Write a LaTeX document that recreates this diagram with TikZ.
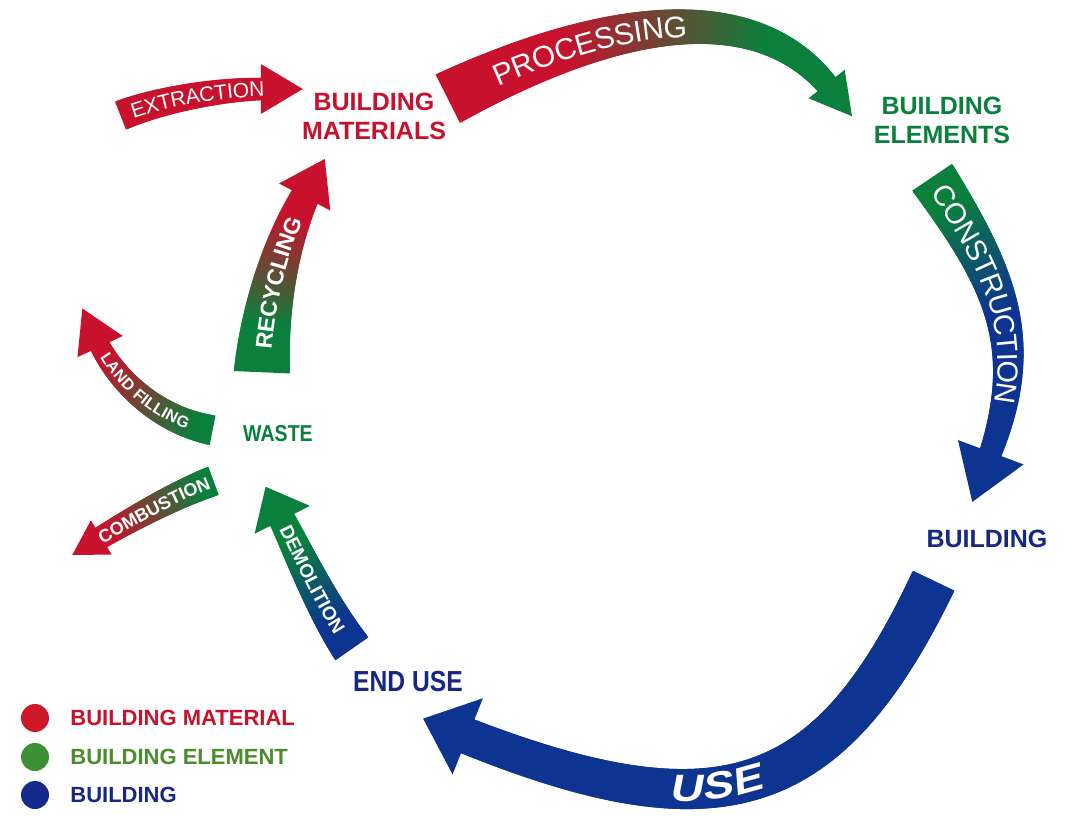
\documentclass[tikz,border=0pt]{standalone}
\usepackage{fontspec}
\setmainfont{Liberation Sans}
\newfontfamily\narrowfont[FakeStretch=0.85]{Liberation Sans}
\newfontfamily\slantfont[FakeSlant=0.2,FakeStretch=1.2]{Liberation Sans}
\usetikzlibrary{positioning,decorations.markings,decorations.text}

\definecolor{matred}{RGB}{200,18,45}
\definecolor{elemgreen}{RGB}{10,128,60}
\definecolor{bldgblue}{RGB}{14,52,145}
\definecolor{textblue}{RGB}{22,40,130}
\definecolor{keyred}{RGB}{205,25,40}
\definecolor{keygreen}{RGB}{60,145,55}
\definecolor{keytextgreen}{RGB}{75,140,45}
\definecolor{keyblue}{RGB}{20,42,140}

% Fonts on the bands
\newcommand\extrfont{\fontsize{21}{21}\selectfont}
\newcommand\procfont{\fontsize{30}{30}\selectfont}
\newcommand\consfont{\fontsize{29}{29}\selectfont}
\newcommand\usetextfont{\slantfont\bfseries\fontsize{38}{38}\selectfont}
\newcommand\demofont{\bfseries\fontsize{19}{19}\selectfont}
\newcommand\recyfont{\bfseries\fontsize{23}{23}\selectfont}
\newcommand\landfont{\bfseries\fontsize{16}{16}\selectfont}
\newcommand\combfont{\bfseries\fontsize{18}{18}\selectfont}

% One slice of a band
\newcommand\ribpiece{%
	\pgfmathsetmacro\ribf{\pgfkeysvalueof{/pgf/decoration/mark info/distance from start}/\pgfdecoratedpathlength}%
	\pgfmathsetmacro\ribw{\ribwa+(\ribwb-\ribwa)*\ribf}%
	\pgfmathtruncatemacro\ribp{100*min(1,max(0,(\ribf-\ribma)/(\ribmb-\ribma)))}%
	\fill[ color=\ribto!\ribp!\ribfrom ] (-1.6,-\ribw) rectangle (1.6,\ribw);%
}
% Head of a band
\newcommand\ribhead{%
	\fill[ color=\ribto ] (-5,-\ribhw) -- (\ribhl,0) -- (-5,\ribhw) -- cycle;%
}

\tikzset{
	stage/.style={ font=\bfseries\fontsize{25}{29}\selectfont, align=center, inner sep=0pt },
	keydot/.style={ circle, minimum size=28pt, inner sep=0pt },
	keytext/.style={ font=\bfseries\fontsize{22}{22}\selectfont, inner sep=0pt },
	rib from/.store in=\ribfrom,
	rib to/.store in=\ribto,
	rib mix/.code args={#1 to #2}{\def\ribma{#1}\def\ribmb{#2}},
	rib width/.code args={#1 to #2}{\def\ribwa{#1}\def\ribwb{#2}},
	rib head/.code args={#1 by #2}{\def\ribhl{#1}\def\ribhw{#2}},
	ribbon/.style={
		postaction={ decorate, decoration={ markings, mark=between positions 0 and 1 step 1.5pt with {\ribpiece} } },
		postaction={ decorate, decoration={ markings, mark=at position 0.9999 with {\ribhead} } }
	},
	ribtext/.style n args={4}{
		postaction={ decorate, decoration={ text along path, text={|#1|#2}, text color=white, text align={left indent=#3}, raise=#4 } }
	}
}

\begin{document}
\begin{tikzpicture}[ x=1pt, y=-1pt ]
	\useasboundingbox (0,0) rectangle (1077,815);
	\fill[ white ] (0,0) rectangle (1077,815);
	% Stages
	\node[ stage, text=matred ] (mat) at (374,116) {BUILDING\\MATERIALS};
	\node[ stage, text=elemgreen ] (elem) at (942,120) {BUILDING\\ELEMENTS};
	\node[ stage, text=textblue ] (bldg) at (987,539) {BUILDING};
	\node[ stage, font=\narrowfont\bfseries\fontsize{29}{29}\selectfont, text=textblue ] (enduse) at (408,682) {END USE};
	\node[ stage, font=\narrowfont\bfseries\fontsize{23}{23}\selectfont, text=elemgreen ] (waste) at (278,434) {WASTE};
	% Free ends
	\coordinate (extr) at (122,115);
	\coordinate (landfill) at (98,342);
	\coordinate (combust) at (97,540);
	% Extraction
	\path[ ribbon, rib from=matred, rib to=matred, rib mix=0 to 1, rib width=15 to 11, rib head=37 by 25,
		ribtext={\extrfont}{EXTRACTION}{10pt}{-7.5pt} ]
		(extr) .. controls (160,100) and (220,89) .. ([shift={(-36,-27)}]mat.west);
	% Processing
	\path[ ribbon, rib from=matred, rib to=elemgreen, rib mix=0.3 to 0.8, rib width=27 to 11, rib head=36 by 23,
		ribtext={\procfont}{PROCESSING}{50pt}{-10.5pt} ]
		([shift={(3,-18)}]mat.east) .. controls (628,8) and (762,2) .. ([shift={(-44,-32)}]elem.west);
	% Construction
	\path[ ribbon, rib from=elemgreen, rib to=bldgblue, rib mix=0.1 to 0.5, rib width=24 to 11, rib head=48 by 35,
		ribtext={\consfont}{CONSTRUCTION}{10pt}{-10pt} ]
		([shift={(-9,35)}]elem.south) .. controls (1000,278) and (1031,344) .. ([shift={(2,-73)}]bldg.north);
	% Use
	\path[ ribbon, rib from=bldgblue, rib to=bldgblue, rib mix=0 to 1, rib width=23 to 18, rib head=43 by 41 ]
		([shift={(-54,34)}]bldg.south) .. controls (830,798) and (723,838) .. ([shift={(55,42)}]enduse.south);
	\path[ ribtext={\usetextfont}{USE}{214pt}{-12pt} ]
		([shift={(55,42)}]enduse.south) .. controls (723,838) and (830,798) .. ([shift={(-54,34)}]bldg.south);
	% Demolition
	\path[ ribbon, rib from=bldgblue, rib to=elemgreen, rib mix=0.2 to 0.8, rib width=20 to 13, rib head=32 by 31 ]
		([shift={(-2,-24)}]enduse.north west) .. controls (322,606) and (300,555) .. ([shift={(2,73)}]waste.south);
	\path[ ribtext={\demofont}{DEMOLITION}{12pt}{-7pt} ]
		([shift={(2,73)}]waste.south) .. controls (300,555) and (322,606) .. ([shift={(-2,-24)}]enduse.north west);
	% Recycling
	\path[ ribbon, rib from=elemgreen, rib to=matred, rib mix=0.25 to 0.85, rib width=28 to 14, rib head=38 by 29,
		ribtext={\recyfont}{RECYCLING}{22pt}{-8pt} ]
		([shift={(-16,-55)}]waste.north) .. controls (265,300) and (284,236) .. ([shift={(-67,53)}]mat.south);
	% Land filling
	\path[ ribbon, rib from=elemgreen, rib to=matred, rib mix=0.1 to 0.9, rib width=15 to 10, rib head=37 by 25 ]
		([shift={(-32,-4)}]waste.west) .. controls (150,418) and (112,372) .. (landfill);
	\path[ ribtext={\landfont}{LAND FILLING}{14pt}{-5.5pt} ]
		(landfill) .. controls (112,372) and (150,418) .. ([shift={(-32,-4)}]waste.west);
	% Combustion
	\path[ ribbon, rib from=elemgreen, rib to=matred, rib mix=0.1 to 0.9, rib width=15 to 11, rib head=29 by 20 ]
		([shift={(-31,39)}]waste.south west) .. controls (175,495) and (130,520) .. (combust);
	\path[ ribtext={\combfont}{COMBUSTION}{3pt}{-6.5pt} ]
		(combust) .. controls (130,520) and (175,495) .. ([shift={(-31,39)}]waste.south west);
	% Legend
	\foreach \y/\dotcol/\keycol/\keytxt [count=\i] in {718/keyred/matred/BUILDING MATERIAL, 757/keygreen/keytextgreen/BUILDING ELEMENT, 795/keyblue/textblue/BUILDING} {
		\node[ keydot, fill=\dotcol ] (dot\i) at (35,\y) {};
		\node[ keytext, text=\keycol, right=21pt of dot\i ] (key\i) {\keytxt};
	}
\end{tikzpicture}
\end{document}
